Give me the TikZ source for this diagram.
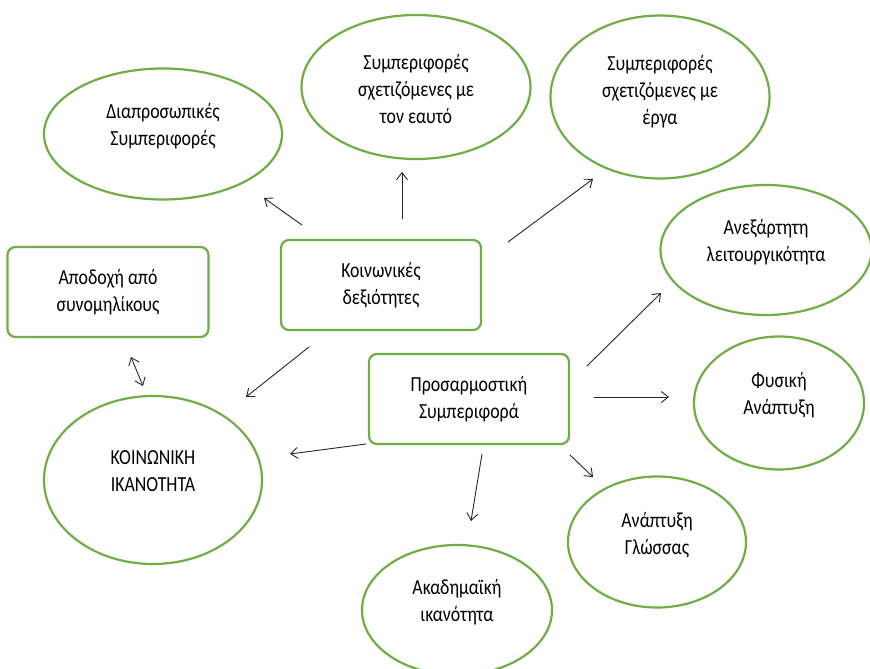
\documentclass[tikz,border=0pt]{standalone}
\usepackage{fontspec}
\setmainfont{Carlito}[FakeStretch=0.83]
\usetikzlibrary{arrows.meta, calc, shapes.geometric}

\definecolor{prasino}{RGB}{112,173,71}
\newcommand{\keimeno}{\fontsize{21.5}{27}\selectfont}

\begin{document}
\begin{tikzpicture}[x=1pt, y=-1pt, >={Straight Barb[length=7pt, width=11pt]}, line join=round, line cap=round,
    elleipsi/.style={ellipse, draw=prasino, line width=2.2pt},
    kouti/.style={rectangle, rounded corners=8pt, draw=prasino, line width=2.2pt, align=center, font=\keimeno},
    lexeis/.style={align=center, font=\keimeno},
    velos/.style={->, line width=0.9pt, black!85}]
    \useasboundingbox (0,0) rectangle (870,669);

    % κουτιά
    \node[kouti, minimum width=201, minimum height=90] (apodochi) at (108,292) {Αποδοχή από\\συνομηλίκους};
    \node[kouti, minimum width=200, minimum height=90] (dexiotites) at (381,285) {Κοινωνικές\\δεξιότητες};
    \node[kouti, minimum width=200, minimum height=90] (prosarm) at (469,399) {Προσαρμοστική\\Συμπεριφορά};

    % ελλείψεις
    \node[elleipsi, minimum width=238, minimum height=131] (diapros) at (163,134) {};
    \node[lexeis] (diapros-t) at (163,126) {Διαπροσωπικές\\Συμπεριφορές};
    \node[elleipsi, minimum width=229, minimum height=144] (eafto) at (416,87) {};
    \node[lexeis] (eafto-t) at (416,89) {Συμπεριφορές\\σχετιζόμενες με\\τον εαυτό};
    \node[elleipsi, minimum width=219, minimum height=163] (erga) at (660,97) {};
    \node[lexeis] (erga-t) at (660,92) {Συμπεριφορές\\σχετιζόμενες με\\έργα};
    \node[elleipsi, minimum width=211, minimum height=130] (anex) at (766,250) {};
    \node[lexeis] (anex-t) at (766,242) {Ανεξάρτητη\\λειτουργικότητα};
    \node[elleipsi, minimum width=170, minimum height=133] (fysiki) at (779,403) {};
    \node[lexeis] (fysiki-t) at (779,395) {Φυσική\\Ανάπτυξη};
    \node[elleipsi, minimum width=178, minimum height=131] (glossa) at (657,542) {};
    \node[lexeis] (glossa-t) at (657,535) {Ανάπτυξη\\Γλώσσας};
    \node[elleipsi, minimum width=190, minimum height=130] (akad) at (457,610) {};
    \node[lexeis] (akad-t) at (457,602) {Ακαδημαϊκή\\ικανότητα};
    \node[elleipsi, minimum width=218, minimum height=168] (ikanotita) at (153,480) {};
    \node[lexeis] (ikanotita-t) at (153,471) {ΚΟΙΝΩΝΙΚΗ\\ΙΚΑΝΟΤΗΤΑ};

    % βέλη από τις κοινωνικές δεξιότητες
    \draw[velos] ($(dexiotites)+(-79,-60)$) -- ($(diapros)+(101,64)$);
    \draw[velos] ($(dexiotites)+(21,-66)$) -- ($(eafto)+(-14,85)$);
    \draw[velos] ($(dexiotites)+(127,-43)$) -- ($(erga)+(-67,82)$);
    \draw[velos] ($(dexiotites)+(-72,62)$) -- ($(ikanotita)+(93,-83)$);
    \draw[velos, <->] ($(apodochi)+(23,65)$) -- ($(ikanotita)+(-10,-94)$);

    % βέλη από την προσαρμοστική συμπεριφορά
    \draw[velos] ($(prosarm)+(-103,45)$) -- ($(ikanotita)+(137,-26)$);
    \draw[velos] ($(prosarm)+(13,55)$) -- ($(akad)+(14,-89)$);
    \draw[velos] ($(prosarm)+(101,56)$) -- ($(glossa)+(-64,-65)$);
    \draw[velos] ($(prosarm)+(125,-2)$) -- ($(fysiki)+(-110,-6)$);
    \draw[velos] ($(prosarm)+(118,-33)$) -- ($(anex)+(-105,43)$);
\end{tikzpicture}
\end{document}
